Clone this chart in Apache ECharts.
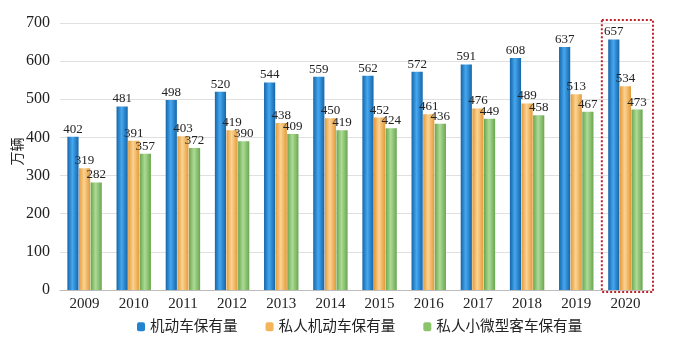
<!DOCTYPE html>
<html><head><meta charset="utf-8">
<script src="https://cdn.jsdelivr.net/npm/echarts@6/dist/echarts.min.js"></script>
<style>html,body{margin:0;padding:0;background:#fff}#c{width:675px;height:350px}</style>
</head><body><div id="c"></div>
<script>
const years = ['2009','2010','2011','2012','2013','2014','2015','2016','2017','2018','2019','2020'];
const motorVehicles = [402,481,498,520,544,559,562,572,591,608,637,657];
const privateMotor = [319,391,403,419,438,450,452,461,476,489,513,534];
const privateSmallCars = [282,357,372,390,409,419,424,436,449,458,467,473];
const seriesNames = ['机动车保有量','私人机动车保有量','私人小微型客车保有量'];
const yTicks = {min:0, max:700, interval:100};

const font = '"Liberation Serif","Noto Sans CJK SC",serif';
function grad(edge, mid){
  return {type:'linear',x:0,y:0,x2:1,y2:0,colorStops:[
    {offset:0,color:edge},{offset:0.45,color:mid},{offset:1,color:edge}]};
}
const colors = [grad('#1665a8','#45a8f0'), grad('#e39a38','#fcd393'), grad('#6aa650','#addb95')];
const solid = ['#2283cf','#f3b45a','#8cc46c'];
const dataSets = [motorVehicles, privateMotor, privateSmallCars];

const chart = echarts.init(document.getElementById('c'));
chart.setOption({
  animation:false,
  textStyle:{fontFamily:font},
  grid:{left:60,right:25,top:23,bottom:60,containLabel:false,outerBoundsMode:'none'},
  legend:{
    bottom:11, left:132, itemWidth:8, itemHeight:9, itemGap:28,
    textStyle:{fontFamily:font,fontSize:14.6,color:'#222'},
    data: seriesNames.map((n,i)=>({name:n,itemStyle:{color:solid[i]}}))
  },
  xAxis:{type:'category',data:years,
    axisLine:{lineStyle:{color:'#bbb'}},axisTick:{show:false},
    axisLabel:{fontFamily:font,fontSize:15,color:'#222',margin:7}},
  yAxis:{type:'value',min:yTicks.min,max:yTicks.max,interval:yTicks.interval,
    name:'万辆',nameLocation:'middle',nameRotate:90,nameGap:35,nameMoveOverlap:false,
    nameTextStyle:{fontFamily:font,fontSize:14,color:'#222',padding:[0,0,0,10]},
    axisLine:{show:false},axisTick:{show:false},
    axisLabel:{fontFamily:font,fontSize:16,color:'#222',margin:10},
    splitLine:{lineStyle:{color:'#e0e0e0'}}},
  series: seriesNames.map((n,i)=>({
    name:n,type:'bar',data:dataSets[i],barGap:'4%',barCategoryGap:'30%',
    itemStyle:{color:colors[i]},
    label:{show:true,position:'top',distance:1,fontFamily:font,fontSize:13,color:'#222'}
  }))
});
// dotted highlight around the last category
const last = years.length-1;
const pTop = chart.convertToPixel({xAxisIndex:0,yAxisIndex:0},[last, yTicks.max]);
const pBot = chart.convertToPixel({xAxisIndex:0,yAxisIndex:0},[last, yTicks.min]);
const band = chart.convertToPixel({xAxisIndex:0},last);
const half = (chart.convertToPixel({xAxisIndex:0},1)-chart.convertToPixel({xAxisIndex:0},0))/2;
chart.setOption({graphic:[{type:'rect',silent:true,
  shape:{x:band-half+1,y:pTop[1]-3,width:2*half+2,height:pBot[1]-pTop[1]+5},
  style:{fill:'none',stroke:'#c0202a',lineWidth:2,lineDash:[2,2]}}]});
</script></body></html>
